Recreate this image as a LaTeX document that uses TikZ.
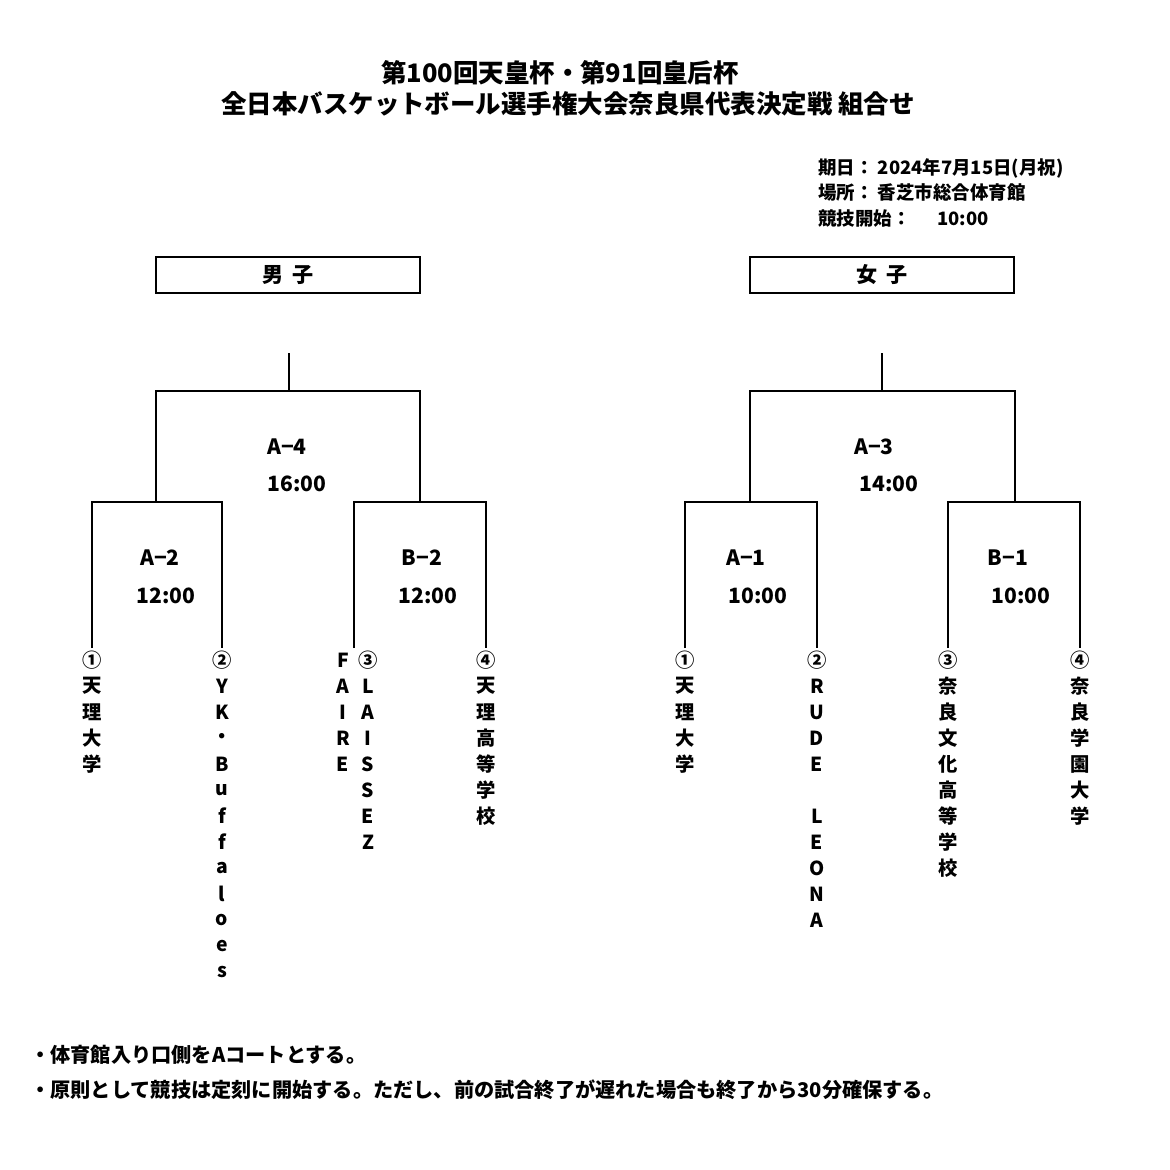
\documentclass[tikz,border=0pt]{standalone}
\usepackage{fontspec}
\setmainfont{Noto Sans CJK JP}
\begin{document}
\begin{tikzpicture}[x=0.02cm,y=-0.02cm,
  br/.style={line width=1.1pt},
  lbl/.style={font=\fontsize{12}{13}\selectfont\bfseries,inner sep=0},
  vch/.style={font=\fontsize{11}{12}\selectfont\bfseries,inner sep=0},
  info/.style={anchor=west,font=\fontsize{10.5}{12}\selectfont\bfseries,inner sep=0},
  foot/.style={anchor=west,font=\fontsize{11.5}{13}\selectfont\bfseries,inner sep=0},
  hbox/.style={draw,line width=1.1pt,minimum width=264*0.02cm,minimum height=36*0.02cm,font=\fontsize{12}{13}\selectfont\bfseries}]
\useasboundingbox (0,0) rectangle (1170,1170);
\node[font=\fontsize{14.5}{16}\selectfont\bfseries] (t1) at (560,73) {第100回天皇杯・第91回皇后杯};
\node[font=\fontsize{14.5}{16}\selectfont\bfseries] (t2) at (568,104) {全日本バスケットボール選手権大会奈良県代表決定戦\ 組合せ};
\node[info] (i1) at (818,168) {期日：\ 2024年7月15日(月祝)};
\node[info] (i2) at (818,192) {場所：\ 香芝市総合体育館};
\node[info] (i3) at (818,219) {競技開始：\quad\ \ 10:00};
\node[hbox] (m) at (288,275) {男\ \ 子};
\node[hbox] (w) at (882,275) {女\ \ 子};
% men bracket
\draw[br] (289,353) -- (289,391);
\draw[br] (156,502) -- (156,391) -- (420,391) -- (420,502);
\draw[br] (92,648) -- (92,502) -- (222,502) -- (222,648);
\draw[br] (354,648) -- (354,502) -- (486,502) -- (486,648);
% women bracket
\draw[br] (882,353) -- (882,391);
\draw[br] (750,502) -- (750,391) -- (1015,391) -- (1015,502);
\draw[br] (685,648) -- (685,502) -- (817,502) -- (817,648);
\draw[br] (948,648) -- (948,502) -- (1080,502) -- (1080,648);
% labels
\node[lbl] (l1) at (287,447) {A−4}; \node[lbl] (l2) at (297,484) {16:00};
\node[lbl] (l3) at (160,558) {A−2}; \node[lbl] (l4) at (166,596) {12:00};
\node[lbl] (l5) at (422,558) {B−2}; \node[lbl] (l6) at (428,596) {12:00};
\node[lbl] (l7) at (874,447) {A−3}; \node[lbl] (l8) at (889,484) {14:00};
\node[lbl] (l9) at (746,558) {A−1}; \node[lbl] (l10) at (758,596) {10:00};
\node[lbl] (l11) at (1008,558) {B−1}; \node[lbl] (l12) at (1021,596) {10:00};
% vertical names
\newcommand{\vname}[3]{\foreach \c [count=\i from 0] in {#3} {\node[vch] (#1-\i) at (#2,660+26*\i) {\c};}}
\vname{m1}{92}{①,天,理,大,学}
\vname{m2}{222}{②,Y,K,・,B,u,f,f,a,l,o,e,s}
\vname{m3a}{343}{F,A,I,R,E}
\vname{m3}{368}{③,L,A,I,S,S,E,Z}
\vname{m4}{486}{④,天,理,高,等,学,校}
\vname{w1}{685}{①,天,理,大,学}
\vname{w2}{817}{②,R,U,D,E,{},L,E,O,N,A}
\vname{w3}{948}{③,奈,良,文,化,高,等,学,校}
\vname{w4}{1080}{④,奈,良,学,園,大,学}
% footnotes
\node[foot] (f1) at (30,1055) {・体育館入り口側をAコートとする。};
\node[foot] (f2) at (30,1090) {・原則として競技は定刻に開始する。ただし、前の試合終了が遅れた場合も終了から30分確保する。};
\end{tikzpicture}
\end{document}
